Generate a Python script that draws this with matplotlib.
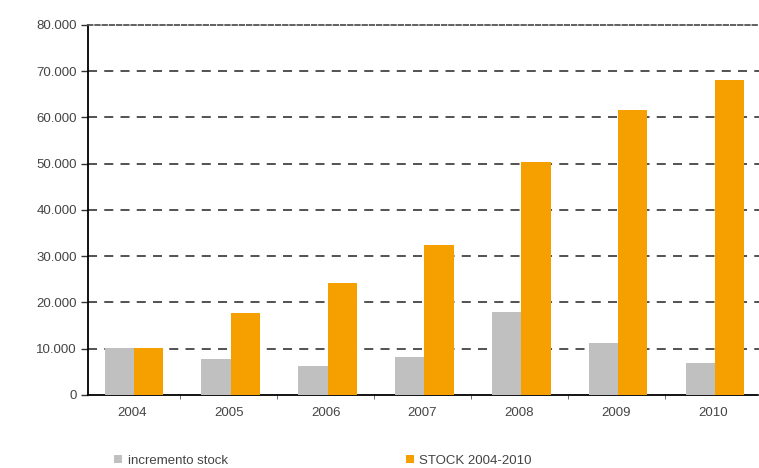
import numpy as np
import matplotlib.pyplot as plt
from matplotlib.ticker import FuncFormatter, FixedLocator

plt.rcParams['font.family'] = ['Liberation Sans', 'DejaVu Sans']

# yearly values
years = ['2004', '2005', '2006', '2007', '2008', '2009', '2010']
incremento = [10200, 7700, 6300, 8300, 18000, 11300, 6850]
stock = [10200, 17650, 24300, 32400, 50300, 61600, 68100]

grey = '#c0c0c0'
orange = '#f6a000'
text_col = '#444444'

fig = plt.figure(figsize=(7.59, 4.68), dpi=100)
ax = fig.add_axes([0.116, 0.156, 0.884, 0.7906])

x = np.arange(len(years))
w = 0.3
ax.bar(x - w / 2 + 0.02, incremento, w, color=grey, label='incremento stock', zorder=3)
ax.bar(x + w / 2 + 0.02, stock, w, color=orange, label='STOCK 2004-2010', zorder=3)

ax.set_xlim(-0.45, 6.47)
ax.set_ylim(0, 80000)
ax.set_yticks(np.arange(0, 80001, 10000))
ax.yaxis.set_major_formatter(FuncFormatter(lambda v, p: f'{int(v):,}'.replace(',', '.')))
ax.set_xticks(x)
ax.set_xticklabels(years)
ax.xaxis.set_minor_locator(FixedLocator(x[:-1] + 0.5))

ax.tick_params(axis='y', length=5, width=1, color='#333333', labelsize=9.5,
               labelcolor=text_col, pad=3)
ax.tick_params(axis='x', length=0, labelsize=9.5, labelcolor=text_col, pad=9)
ax.tick_params(axis='x', which='minor', length=3, color='#555555')

# dashed grid behind the bars
for v in range(10000, 80000, 10000):
    ax.axhline(v, color='#444444', lw=1.3, ls=(0, (5, 4)), zorder=1)

ax.spines['right'].set_visible(False)
ax.spines['left'].set_linestyle((0, (2, 1)))
ax.spines['left'].set_linewidth(1.3)
ax.spines['bottom'].set_linestyle((0, (2, 1)))
ax.spines['bottom'].set_linewidth(1.3)
ax.spines['top'].set_linestyle((0, (2.5, 1.5)))
ax.spines['top'].set_color('#555555')
ax.spines['top'].set_linewidth(1.3)

fig.legend(loc='center left', bbox_to_anchor=(0.135, 0.016), ncol=2, frameon=False,
           handlelength=0.6, handleheight=0.6, handletextpad=0.4,
           columnspacing=13.5, fontsize=9.5, labelcolor=text_col)

fig.savefig('out.png', dpi=100)
